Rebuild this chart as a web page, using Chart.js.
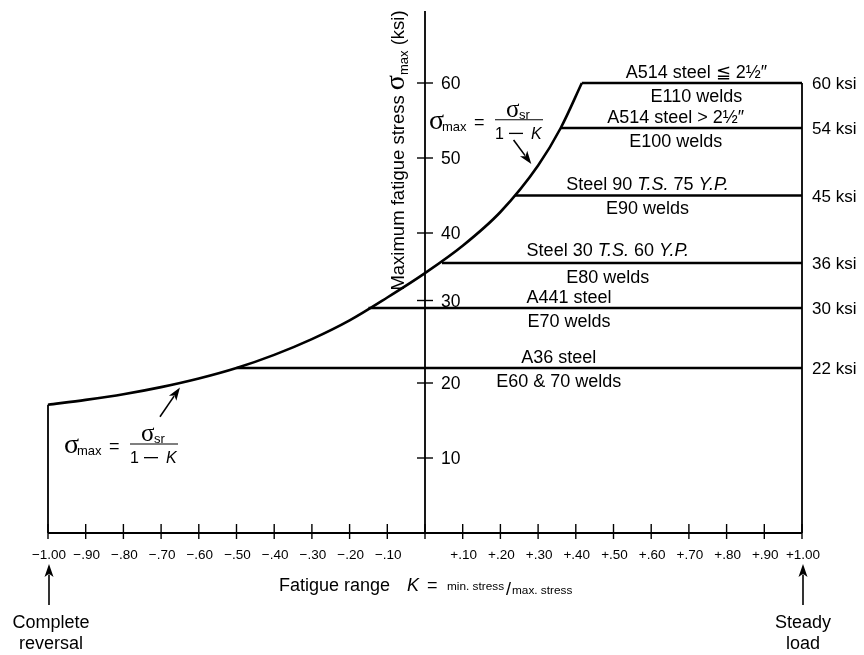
<!DOCTYPE html>
<html>
<head>
<meta charset="utf-8">
<script src="https://cdn.jsdelivr.net/npm/chart.js@4.4.1/dist/chart.umd.min.js"></script>
<style>
  html, body { margin: 0; padding: 0; background: #fff; }
</style>
</head>
<body>
<canvas id="fatigueChart" width="864" height="655"></canvas>
<script>
// fatigue range K (x) and max fatigue stress in ksi (y)
const curveK = [-1.00, -0.90, -0.80, -0.70, -0.60, -0.50, -0.40, -0.30, -0.20, -0.10, 0.00, 0.10, 0.20, 0.30, 0.36, 0.416];
const curveStress = [17.1, 17.75, 18.5, 19.45, 20.6, 22.0, 23.75, 25.85, 28.35, 31.4, 34.65, 38.3, 42.8, 49.0, 54.0, 60.0];

// allowable levels (ksi) and the K where each one leaves the curve
const levelStress = [60, 54, 45, 36, 30, 22];
const levelStartK = [0.416, 0.36, 0.239, 0.045, -0.15, -0.50];
const levelLabels = ['60 ksi', '54 ksi', '45 ksi', '36 ksi', '30 ksi', '22 ksi'];
const weldLabels = ['E110 welds', 'E100 welds', 'E90 welds', 'E80 welds', 'E70 welds', 'E60 & 70 welds'];
// steel labels: [text, italic]
const steelLabels = [
  [['A514 steel \u2266 2\u00BD\u2033', false]],
  [['A514 steel > 2\u00BD\u2033', false]],
  [['Steel 90 ', false], ['T.S.', true], [' 75 ', false], ['Y.P.', true]],
  [['Steel 30 ', false], ['T.S.', true], [' 60 ', false], ['Y.P.', true]],
  [['A441 steel', false]],
  [['A36 steel', false]]
];

const xTickValues = [-1.0, -0.9, -0.8, -0.7, -0.6, -0.5, -0.4, -0.3, -0.2, -0.1, 0, 0.1, 0.2, 0.3, 0.4, 0.5, 0.6, 0.7, 0.8, 0.9, 1.0];
const xTickLabels = ['\u22121.00', '\u2212.90', '\u2212.80', '\u2212.70', '\u2212.60', '\u2212.50', '\u2212.40', '\u2212.30', '\u2212.20', '\u2212.10', '',
  '+.10', '+.20', '+.30', '+.40', '+.50', '+.60', '+.70', '+.80', '+.90', '+1.00'];
// the "30" tick sits a little high in the drawing
const yTickValues = [10, 20, 31, 40, 50, 60];
const yTickLabels = ['10', '20', '30', '40', '50', '60'];
const yAxisTop = 69.6;

const SANS = "'Liberation Sans', Arial, sans-serif";
const SERIF = "'Liberation Serif', 'Times New Roman', serif";

// label centres along K for each level line
const labelK = [0.72, 0.665, 0.59, 0.485, 0.382, 0.355];

const lineSet = (pts, width) => ({
  data: pts, showLine: true, borderColor: '#000', borderWidth: width,
  pointRadius: 0, fill: false, clip: false, borderCapStyle: 'butt'
});

const datasets = [];
datasets.push(Object.assign(lineSet(curveK.map((k, i) => ({ x: k, y: curveStress[i] })), 2.6), { cubicInterpolationMode: 'monotone' }));
levelStress.forEach((s, i) => {
  datasets.push(lineSet([{ x: levelStartK[i], y: s }, { x: 1, y: s }], 2.6));
});
datasets.push(lineSet([{ x: -1, y: 0 }, { x: -1, y: curveStress[0] }], 1.8));
datasets.push(lineSet([{ x: 1, y: 0 }, { x: 1, y: levelStress[0] }], 1.8));

// draw a row of text pieces: [text, font, dy]
function drawRuns(ctx, parts, x, y, align) {
  let total = 0;
  parts.forEach(p => { ctx.font = p[1]; total += ctx.measureText(p[0]).width; });
  let cx = align === 'center' ? x - total / 2 : x;
  ctx.textAlign = 'left';
  parts.forEach(p => {
    ctx.font = p[1];
    ctx.fillText(p[0], cx, y + (p[2] || 0));
    cx += ctx.measureText(p[0]).width;
  });
}

function arrow(ctx, x1, y1, x2, y2) {
  const a = Math.atan2(y2 - y1, x2 - x1);
  const len = 13, half = 4.5;
  ctx.beginPath();
  ctx.lineWidth = 1.6;
  ctx.moveTo(x1, y1);
  ctx.lineTo(x2 - Math.cos(a) * len * 0.8, y2 - Math.sin(a) * len * 0.8);
  ctx.stroke();
  ctx.beginPath();
  ctx.moveTo(x2, y2);
  ctx.lineTo(x2 - Math.cos(a) * len - Math.sin(a) * half, y2 - Math.sin(a) * len + Math.cos(a) * half);
  ctx.lineTo(x2 - Math.cos(a) * len * 0.75, y2 - Math.sin(a) * len * 0.75);
  ctx.lineTo(x2 - Math.cos(a) * len + Math.sin(a) * half, y2 - Math.sin(a) * len - Math.cos(a) * half);
  ctx.closePath();
  ctx.fill();
}

// sigma_max = sigma_sr / (1 - K); c = centre of fraction, y = fraction bar
function formula(ctx, c, y) {
  ctx.textAlign = 'left';
  ctx.font = '28px ' + SERIF;
  ctx.fillText('\u03C3', c - 90, y + 9);
  ctx.font = '13px ' + SANS;
  ctx.fillText('max', c - 77, y + 11);
  ctx.font = '18px ' + SANS;
  ctx.fillText('=', c - 45, y + 8);
  ctx.beginPath();
  ctx.lineWidth = 1.2;
  ctx.moveTo(c - 24, y);
  ctx.lineTo(c + 24, y);
  ctx.stroke();
  ctx.font = '25px ' + SERIF;
  ctx.fillText('\u03C3', c - 13, y - 3);
  ctx.font = '13px ' + SANS;
  ctx.fillText('sr', c, y - 1);
  ctx.font = '16px ' + SANS;
  ctx.fillText('1', c - 24, y + 19);
  ctx.fillRect(c - 10, y + 13, 14, 1.3);
  ctx.font = 'italic 16px ' + SANS;
  ctx.fillText('K', c + 12, y + 19);
}

const annotations = {
  id: 'annotations',
  afterDatasetsDraw(chart) {
    const ctx = chart.ctx;
    const xs = chart.scales.x, ys = chart.scales.y;
    const x0 = xs.getPixelForValue(0), y0 = ys.getPixelForValue(0);
    ctx.save();
    ctx.fillStyle = '#000';
    ctx.strokeStyle = '#000';
    ctx.textBaseline = 'alphabetic';

    // axes
    ctx.lineWidth = 1.8;
    ctx.beginPath();
    ctx.moveTo(xs.getPixelForValue(-1), y0);
    ctx.lineTo(xs.getPixelForValue(1), y0);
    ctx.moveTo(x0, y0);
    ctx.lineTo(x0, ys.getPixelForValue(yAxisTop));
    ctx.stroke();

    // x ticks + labels
    ctx.lineWidth = 1.4;
    xTickValues.forEach((v, i) => {
      const px = xs.getPixelForValue(v);
      ctx.beginPath();
      ctx.moveTo(px, y0 - 9);
      ctx.lineTo(px, y0 + 6);
      ctx.stroke();
      ctx.font = '13.5px ' + SANS;
      ctx.textAlign = 'center';
      ctx.fillText(xTickLabels[i], px + 1, y0 + 26);
    });

    // y ticks + labels
    yTickValues.forEach((v, i) => {
      const py = ys.getPixelForValue(v);
      ctx.beginPath();
      ctx.moveTo(x0 - 8, py);
      ctx.lineTo(x0 + 8, py);
      ctx.stroke();
      ctx.font = '17.5px ' + SANS;
      ctx.textAlign = 'left';
      ctx.fillText(yTickLabels[i], x0 + 16, py + 6);
    });

    // level labels
    levelStress.forEach((s, i) => {
      const py = ys.getPixelForValue(s);
      const px = xs.getPixelForValue(labelK[i]);
      const gap = i === 3 ? 13 : 11.5;
      drawRuns(ctx, steelLabels[i].map(r => [r[0], (r[1] ? 'italic ' : '') + '18px ' + SANS, 0]), px, py - gap + 6, 'center');
      drawRuns(ctx, [[weldLabels[i], '18px ' + SANS, 0]], px, py + gap + 7, 'center');
      ctx.font = '17px ' + SANS;
      ctx.textAlign = 'left';
      ctx.fillText(levelLabels[i], xs.getPixelForValue(1) + 10, py + 6);
    });

    // formulas + arrows
    formula(ctx, x0 + 94, ys.getPixelForValue(55.1));
    arrow(ctx, xs.getPixelForValue(0.235), ys.getPixelForValue(52.4), xs.getPixelForValue(0.282), ys.getPixelForValue(49.2));
    formula(ctx, xs.getPixelForValue(-1) + 106, y0 - 89);
    arrow(ctx, xs.getPixelForValue(-0.703), ys.getPixelForValue(15.5), xs.getPixelForValue(-0.65), ys.getPixelForValue(19.4));

    // x axis title
    ctx.textAlign = 'left';
    ctx.font = '18px ' + SANS;
    ctx.fillText('Fatigue range', x0 - 146, y0 + 58);
    ctx.font = 'italic 18px ' + SANS;
    ctx.fillText('K', x0 - 18, y0 + 58);
    ctx.font = '18px ' + SANS;
    ctx.fillText('=', x0 + 2, y0 + 58);
    ctx.font = '11.8px ' + SANS;
    ctx.fillText('min. stress', x0 + 22, y0 + 57);
    ctx.font = '18px ' + SANS;
    ctx.fillText('/', x0 + 81, y0 + 62);
    ctx.font = '11.8px ' + SANS;
    ctx.fillText('max. stress', x0 + 87, y0 + 61);

    // y axis title (rotated)
    ctx.save();
    ctx.translate(x0 - 27, ys.getPixelForValue(51));
    ctx.rotate(-Math.PI / 2);
    drawRuns(ctx, [
      ['Maximum fatigue stress ', '18.5px ' + SANS, 0],
      ['\u03C3', '28px ' + SERIF, 0],
      ['max', '13px ' + SANS, 4],
      [' (ksi)', '18.5px ' + SANS, 0]
    ], 0, 6, 'center');
    ctx.restore();

    // end notes
    const xl = xs.getPixelForValue(-1), xr = xs.getPixelForValue(1);
    arrow(ctx, xl + 1, y0 + 72, xl + 1, y0 + 31);
    arrow(ctx, xr + 1, y0 + 72, xr + 1, y0 + 31);
    ctx.font = '18px ' + SANS;
    ctx.textAlign = 'center';
    ctx.fillText('Complete', xl + 3, y0 + 95);
    ctx.fillText('reversal', xl + 3, y0 + 116);
    ctx.fillText('Steady', xr + 1, y0 + 95);
    ctx.fillText('load', xr + 1, y0 + 116);
    ctx.restore();
  }
};

new Chart(document.getElementById('fatigueChart'), {
  type: 'scatter',
  data: { datasets: datasets },
  options: {
    responsive: false,
    animation: false,
    layout: { padding: { left: 48, right: 62, top: 8, bottom: 122 } },
    scales: {
      x: { type: 'linear', min: -1, max: 1, display: false },
      y: { type: 'linear', min: 0, max: 70, display: false }
    },
    plugins: { legend: { display: false }, tooltip: { enabled: false } }
  },
  plugins: [annotations]
});
</script>
</body>
</html>
